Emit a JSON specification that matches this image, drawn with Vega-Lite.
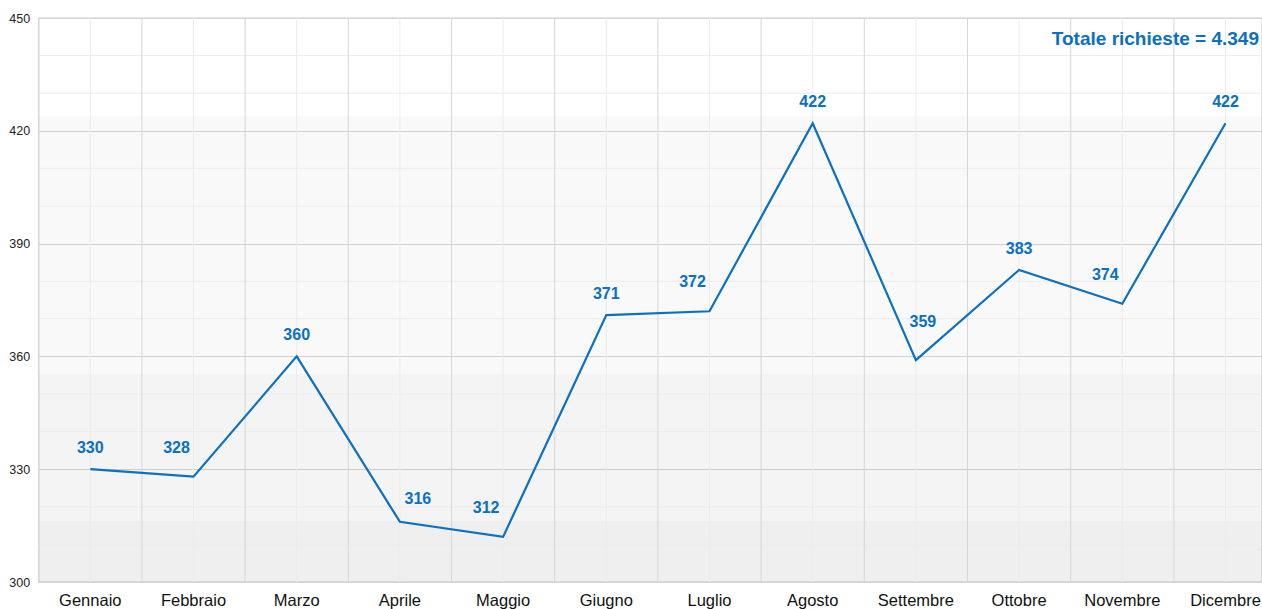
{
  "$schema": "https://vega.github.io/schema/vega-lite/v6.json",
  "autosize": "none",
  "padding": {"left": 38.7, "top": 18, "right": 0, "bottom": 27},
  "width": 1223.3,
  "height": 564,
  "background": "white",
  "config": {
    "view": {"stroke": "#dddddd", "strokeWidth": 1.5},
    "font": "Liberation Sans"
  },
  "title": {
    "text": "Totale richieste = 4.349",
    "anchor": "end",
    "frame": "group",
    "orient": "top",
    "offset": -37,
    "dx": -3,
    "fontSize": 19,
    "fontWeight": "bold",
    "color": "#0a70c0",
    "font": "Liberation Sans"
  },
  "datasets": {
    "months": [
      {"mese": "Gennaio", "richieste": 330},
      {"mese": "Febbraio", "richieste": 328},
      {"mese": "Marzo", "richieste": 360},
      {"mese": "Aprile", "richieste": 316},
      {"mese": "Maggio", "richieste": 312},
      {"mese": "Giugno", "richieste": 371},
      {"mese": "Luglio", "richieste": 372},
      {"mese": "Agosto", "richieste": 422},
      {"mese": "Settembre", "richieste": 359},
      {"mese": "Ottobre", "richieste": 383},
      {"mese": "Novembre", "richieste": 374},
      {"mese": "Dicembre", "richieste": 422}
    ],
    "bands": [
      {"da": 300, "a": 316.3, "tono": 0.063},
      {"da": 316.3, "a": 355.3, "tono": 0.043},
      {"da": 355.3, "a": 423.9, "tono": 0.024}
    ],
    "minor": [
      {"v": 310}, {"v": 320}, {"v": 340}, {"v": 350}, {"v": 370},
      {"v": 380}, {"v": 400}, {"v": 410}, {"v": 430}, {"v": 440}
    ]
  },
  "layer": [
    {
      "data": {"name": "bands"},
      "mark": {"type": "rect", "fill": "black"},
      "encoding": {
        "y": {"field": "da", "type": "quantitative", "scale": {"domain": [300, 450], "nice": false, "zero": false},
          "axis": {"values": [300, 330, 360, 390, 420, 450], "domain": false, "ticks": false, "grid": true, "gridColor": "#d6d6d6", "labelFontSize": 12.5, "labelColor": "#222222", "labelPadding": 9, "title": null, "labelFont": "Liberation Sans"}},
        "y2": {"field": "a"},
        "opacity": {"field": "tono", "type": "quantitative", "scale": null, "legend": null}
      }
    },
    {
      "data": {"name": "minor"},
      "mark": {"type": "rule", "color": "#ececec", "strokeWidth": 1},
      "encoding": {
        "y": {"field": "v", "type": "quantitative"}
      }
    },
    {
      "data": {"name": "months"},
      "mark": {"type": "rule", "color": "#ececec", "strokeWidth": 1},
      "encoding": {
        "x": {"field": "mese", "type": "nominal", "sort": null, "bandPosition": 0.5}
      }
    },
    {
      "data": {"name": "months"},
      "mark": {"type": "rule", "color": "#d6d6d6", "strokeWidth": 1},
      "encoding": {
        "x": {"field": "mese", "type": "nominal", "sort": null, "bandPosition": 0}
      }
    },
    {
      "data": {"name": "months"},
      "mark": {"type": "line", "color": "#0a70c0", "strokeWidth": 2.2},
      "encoding": {
        "x": {"field": "mese", "type": "nominal", "sort": null,
          "scale": {"range": [0, 1238.4], "paddingInner": 0, "paddingOuter": 0},
          "axis": {"grid": false, "domain": false, "ticks": false, "labelAngle": 0, "labelAlign": "center", "labelFontSize": 16.5, "labelColor": "#111111", "labelPadding": 10, "labelBaseline": "top", "title": null, "labelFont": "Liberation Sans"}},
        "y": {"field": "richieste", "type": "quantitative"}
      }
    },
    {
      "data": {"name": "months"},
      "transform": [{"filter": {"field": "mese", "oneOf": ["Gennaio", "Marzo", "Giugno", "Agosto", "Ottobre", "Dicembre"]}}],
      "mark": {"type": "text", "color": "#0a70c0", "fontWeight": "bold", "fontSize": 16, "dy": -21, "baseline": "middle", "font": "Liberation Sans"},
      "encoding": {
        "x": {"field": "mese", "type": "nominal", "sort": null},
        "y": {"field": "richieste", "type": "quantitative"},
        "text": {"field": "richieste", "type": "quantitative"}
      }
    },
    {
      "data": {"name": "months"},
      "transform": [{"filter": {"field": "mese", "oneOf": ["Febbraio", "Maggio", "Luglio", "Novembre"]}}],
      "mark": {"type": "text", "color": "#0a70c0", "fontWeight": "bold", "fontSize": 16, "dx": -17, "dy": -29, "baseline": "middle", "font": "Liberation Sans"},
      "encoding": {
        "x": {"field": "mese", "type": "nominal", "sort": null},
        "y": {"field": "richieste", "type": "quantitative"},
        "text": {"field": "richieste", "type": "quantitative"}
      }
    },
    {
      "data": {"name": "months"},
      "transform": [{"filter": {"field": "mese", "equal": "Aprile"}}],
      "mark": {"type": "text", "color": "#0a70c0", "fontWeight": "bold", "fontSize": 16, "dx": 18, "dy": -23, "baseline": "middle", "font": "Liberation Sans"},
      "encoding": {
        "x": {"field": "mese", "type": "nominal", "sort": null},
        "y": {"field": "richieste", "type": "quantitative"},
        "text": {"field": "richieste", "type": "quantitative"}
      }
    },
    {
      "data": {"name": "months"},
      "transform": [{"filter": {"field": "mese", "equal": "Settembre"}}],
      "mark": {"type": "text", "color": "#0a70c0", "fontWeight": "bold", "fontSize": 16, "dx": 7, "dy": -38, "baseline": "middle", "font": "Liberation Sans"},
      "encoding": {
        "x": {"field": "mese", "type": "nominal", "sort": null},
        "y": {"field": "richieste", "type": "quantitative"},
        "text": {"field": "richieste", "type": "quantitative"}
      }
    }
  ]
}
